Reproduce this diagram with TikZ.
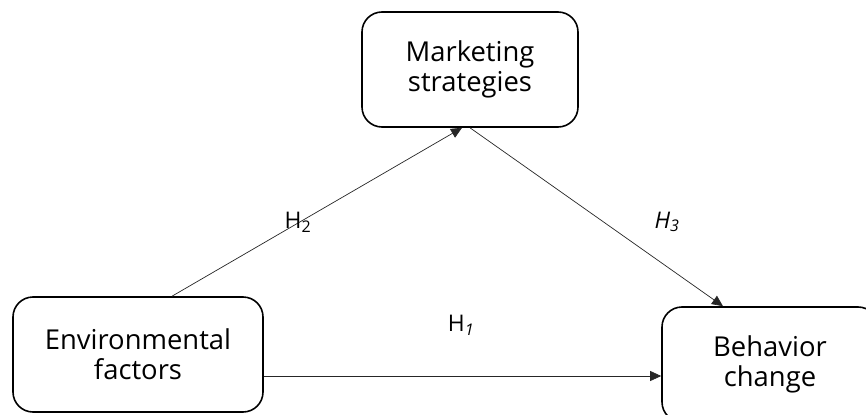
\documentclass[tikz,border=0pt]{standalone}
\usepackage{fontspec}
\setmainfont{Open Sans}
\usetikzlibrary{calc,arrows.meta}
\tikzset{
  varbox/.style={draw,line width=1.6bp,rounded corners=20bp,align=center,
    minimum width=216bp,minimum height=115bp,font=\fontsize{27.5}{30}\selectfont},
  conn/.style={line width=0.7bp,draw=black!85,-{Triangle[length=11bp,width=10bp]}},
  hlab/.style={inner sep=1pt,font=\fontsize{23}{24}\selectfont}
}
\begin{document}
\begin{tikzpicture}[x=1bp,y=1bp]
\useasboundingbox (0,0) rectangle (866,414);
\clip (0,0) rectangle (866,414);
\node[varbox] (mkt) at (470,344.5) {Marketing\\strategies};
\node[varbox,minimum width=250bp] (env) at (138,59.5) {Environmental\\factors};
\node[varbox] (beh) at (770,49.5) {Behavior\\change};
\draw[conn] ($(env.north)+(34,0)$) -- ($(mkt.south)+(-8,0)$);
\draw[conn] (mkt.south) -- ($(beh.north)+(-47,0)$);
\coordinate (h1s) at ($(env.east)+(0,-21.5)$);
\draw[conn] (h1s) -- (h1s -| beh.west);
\node[hlab] (h2) at (298,192) {H\textsubscript{2}};
\node[hlab] (h3) at (667,192) {\textit{H\textsubscript{3}}};
\node[hlab] (h1) at (461,89) {H\textsubscript{\textit{1}}};
\end{tikzpicture}
\end{document}
